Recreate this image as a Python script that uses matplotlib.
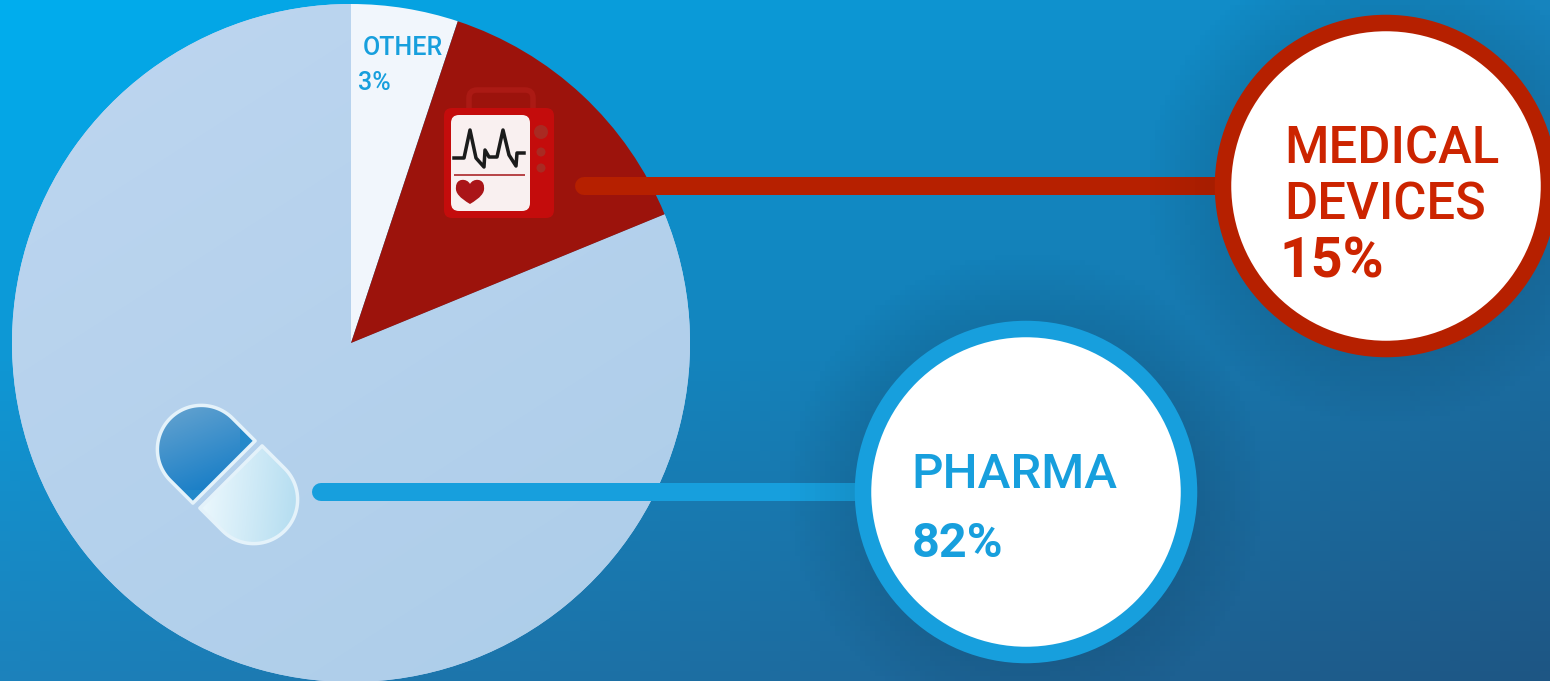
#!/usr/bin/env python3
import numpy as np
from matplotlib import pyplot as plt
from matplotlib.patches import Circle, FancyBboxPatch, Polygon, PathPatch
from matplotlib.path import Path

W, H = 1550, 681

categories = ["OTHER", "MEDICAL DEVICES", "PHARMA"]
value_labels = ["3%", "15%", "82%"]
# wedge sizes as drawn in the picture, they don't follow the printed labels
wedge_sizes = [5.1, 13.7, 81.2]
wedge_colors = ["#f1f6fc", "#9c130c", "#bcd5ef"]

RED = "#b62000"
RED_TEXT = "#cc2400"
BLUE = "#179fdd"

plt.rcParams["font.family"] = ["Roboto", "DejaVu Sans"]

fig = plt.figure(figsize=(W / 100, H / 100), dpi=100)
ax = fig.add_axes([0, 0, 1, 1])


def px(width):
    return width * 0.72


def gradient_image(c1, c2, angle, extent, zorder):
    # linear gradient between two colours, painted over extent
    x, y = np.meshgrid(np.linspace(0, 1, 64), np.linspace(0, 1, 64))
    t = x * np.cos(angle) + y * np.sin(angle)
    t = (t - t.min()) / (t.max() - t.min())
    c1, c2 = np.array(c1) / 255, np.array(c2) / 255
    img = c1 + (c2 - c1) * t[..., None]
    return ax.imshow(img, extent=extent, origin="upper", aspect="auto", zorder=zorder, interpolation="bilinear")


# background
gy, gx = np.meshgrid(np.linspace(0, 1, 68), np.linspace(0, 1, 155), indexing="ij")
tl, tr = np.array([0, 174, 239]), np.array([22, 132, 190])
bl, br = np.array([28, 130, 188]), np.array([30, 86, 132])
bg = (tl * (1 - gx[..., None]) + tr * gx[..., None]) * (1 - gy[..., None]) \
    + (bl * (1 - gx[..., None]) + br * gx[..., None]) * gy[..., None]
ax.imshow(bg / 255, extent=(0, W, H, 0), aspect="auto", zorder=0, interpolation="nearest")

# pie
wedges, _ = ax.pie(wedge_sizes, colors=wedge_colors, startangle=-90, counterclock=True,
                   center=(351, 343), radius=339, frame=False,
                   wedgeprops={"linewidth": 0, "zorder": 1})
wedges[0].set_zorder(2)
wedges[1].set_zorder(2)
pie_shade = gradient_image((190, 214, 240), (172, 205, 233), 1.0, (12, 690, 683, 4), 1.5)
pie_shade.set_clip_path(wedges[2])

# leader lines
ax.plot([584, 1225], [185.5, 185.5], color=RED, lw=px(18), solid_capstyle="round", zorder=5)
ax.plot([321, 865], [491.5, 491.5], color=BLUE, lw=px(18), solid_capstyle="round", zorder=5)

# soft shadow round the two callouts
sy, sx = np.meshgrid(np.linspace(0, H, 136), np.linspace(0, W, 310), indexing="ij")
shadow = np.zeros(sx.shape + (4,))
alpha = np.zeros(sx.shape)
for cx, cy in [(1386, 186), (1026, 492)]:
    d = np.hypot(sx - cx, sy - cy)
    alpha = np.maximum(alpha, 0.09 * np.clip((240 - d) / 69, 0, 1))
shadow[..., 3] = alpha
ax.imshow(shadow, extent=(0, W, H, 0), aspect="auto", zorder=6, interpolation="nearest")

# callouts
ax.add_patch(Circle((1386, 186), 163, fc="white", ec=RED, lw=px(16.5), zorder=7))
ax.add_patch(Circle((1026, 492), 163, fc="white", ec=BLUE, lw=px(16.5), zorder=7))

ax.text(1284, 163, "MEDICAL", color=RED_TEXT, fontsize=36.5, weight="medium", ha="left", va="baseline", zorder=8)
ax.text(1284, 219, "DEVICES", color=RED_TEXT, fontsize=36.5, weight="medium", ha="left", va="baseline", zorder=8)
ax.text(1279, 277, value_labels[1], color=RED_TEXT, fontsize=40, weight="bold", ha="left", va="baseline", zorder=8,
        family=["Liberation Sans Narrow", "Roboto"])
ax.text(911, 488, categories[2], color=BLUE, fontsize=35.5, weight="medium", ha="left", va="baseline", zorder=8)
ax.text(912, 557, value_labels[2], color=BLUE, fontsize=35, weight="bold", ha="left", va="baseline", zorder=8)
ax.text(363, 55, categories[0], color=BLUE, fontsize=18, weight="medium", ha="left", va="baseline", zorder=8)
ax.text(358, 90, value_labels[0], color=BLUE, fontsize=18, weight="medium", ha="left", va="baseline", zorder=8)

# monitor icon
ax.add_patch(FancyBboxPatch((469, 90), 64, 30, boxstyle="round,pad=0,rounding_size=8",
                            fc="none", ec="#ab1a14", lw=px(5.5), zorder=3))
ax.add_patch(FancyBboxPatch((444, 108), 110, 110, boxstyle="round,pad=0,rounding_size=8",
                            fc="#c40c0c", ec="none", zorder=3))
ax.add_patch(FancyBboxPatch((451, 115), 79, 96, boxstyle="round,pad=0,rounding_size=8",
                            fc="#f9f0f0", ec="none", zorder=4))
for ky, kr in [(132, 7), (152, 4.5), (168, 4.5)]:
    ax.add_patch(Circle((541, ky), kr, fc="#a92a22", ec="none", zorder=4))
ecg_x = [454, 464, 470, 476, 484, 485, 489, 497, 503, 509, 516, 517, 524]
ecg_y = [158, 158, 130, 158, 167, 150, 157, 157, 130, 155, 166, 153, 153]
ax.plot(ecg_x, ecg_y, color="#1b1b1b", lw=px(3.5), solid_joinstyle="round", zorder=5)
ax.plot([455, 524], [175, 175], color="#b8474a", lw=px(2), zorder=5)
heart = Path([(470, 204), (460, 198), (455, 193), (456, 187), (456, 178), (467, 178), (470, 184),
              (473, 178), (484, 178), (484, 187), (485, 193), (480, 198), (470, 204)],
             [Path.MOVETO] + [Path.CURVE4] * 12)
ax.add_patch(PathPatch(heart, fc="#aa1518", ec="none", zorder=5))


# pill icon
def pill_half(fx, fy, ux, uy):
    # half capsule, flat side centred on fx,fy and dome towards ux,uy
    vx, vy = -uy, ux
    half, body = 44, 32
    a = np.linspace(np.pi / 2, -np.pi / 2, 60)
    xs = fx + ux * (body + half * np.cos(a)) + vx * half * np.sin(a)
    ys = fy + uy * (body + half * np.cos(a)) + vy * half * np.sin(a)
    return np.column_stack([np.r_[xs, fx - vx * half, fx + vx * half], np.r_[ys, fy - vy * half, fy + vy * half]])


blue_pts = pill_half(224, 472, -0.707, -0.707)
white_pts = pill_half(231, 477, 0.707, 0.707)
blue_half = Polygon(blue_pts, closed=True, fc="#2389ca", ec="none", zorder=3)
white_half = Polygon(white_pts, closed=True, fc="#e6f4fb", ec="none", zorder=3)
ax.add_patch(blue_half)
ax.add_patch(white_half)
shine = gradient_image((105, 165, 208), (16, 122, 198), 1.2, (157, 240, 490, 404), 3.5)
shine.set_clip_path(Polygon(blue_pts, closed=True, transform=ax.transData))
glow = gradient_image((240, 250, 254), (178, 220, 240), 0.1, (198, 299, 546, 446), 3.5)
glow.set_clip_path(Polygon(white_pts, closed=True, transform=ax.transData))
ax.add_patch(Polygon(blue_pts, closed=True, fc="none", ec="#e4f2fa", lw=px(3.5), joinstyle="round", zorder=4))
ax.add_patch(Polygon(white_pts, closed=True, fc="none", ec="#e4f2fa", lw=px(3.5), joinstyle="round", zorder=4))

ax.set_xlim(0, W)
ax.set_ylim(H, 0)
ax.set_aspect("auto")
ax.axis("off")

plt.savefig("out.png", dpi=100)
